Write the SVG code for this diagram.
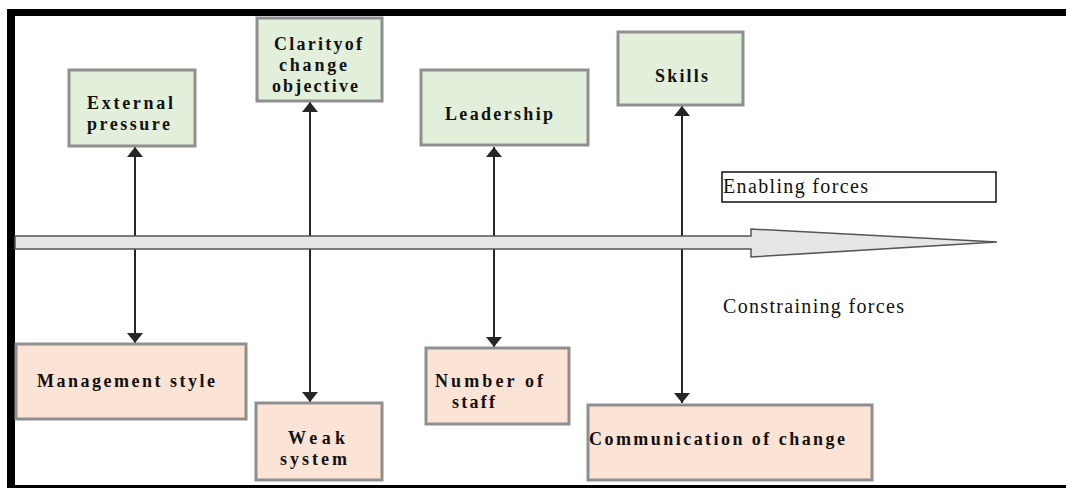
<svg xmlns="http://www.w3.org/2000/svg" width="1066" height="488" viewBox="0 0 1066 488">
<style>
.en{fill:#e2efda;stroke:#8f8f8f;stroke-width:3}
.co{fill:#fbe4d6;stroke:#8f8f8f;stroke-width:3}
.lb{font-family:"Liberation Serif","Times New Roman",serif;font-weight:bold;font-size:18px;fill:#111}
.pl{font-family:"Liberation Serif","Times New Roman",serif;font-size:20px;fill:#111}
.cn{stroke:#262626;stroke-width:2;fill:none;marker-start:url(#ah);marker-end:url(#ah)}
</style>
<defs>
<marker id="ah" viewBox="0 0 10 16" refX="10" refY="8" markerWidth="10" markerHeight="16" markerUnits="userSpaceOnUse" orient="auto-start-reverse">
<path d="M0,0 L10,8 L0,16 Z" fill="#262626"/>
</marker>
</defs>
<rect width="1066" height="488" fill="#ffffff"/>
<g id="frame" fill="#000000">
<rect x="7" y="9" width="1059" height="7"/>
<rect x="7" y="9" width="8" height="479"/>
<rect x="7" y="485" width="1059" height="3"/>
</g>
<g id="connectors">
<line class="cn" x1="135" y1="147" x2="135" y2="343"/>
<line class="cn" x1="310" y1="102" x2="310" y2="402"/>
<line class="cn" x1="494" y1="147" x2="494" y2="347"/>
<line class="cn" x1="682" y1="106" x2="682" y2="403"/>
</g>
<g id="main-arrow">
<polygon points="15,236 751,236 751,229 997,242 751,257 751,249 15,249" fill="#e6e6e6" stroke="#555555" stroke-width="1.5" stroke-linejoin="miter"/>
</g>
<g id="external-pressure">
<rect class="en" x="69" y="70" width="126" height="76"/>
<text class="lb" x="87" y="109" textLength="86" lengthAdjust="spacing">External</text>
<text class="lb" x="87" y="130" textLength="83" lengthAdjust="spacing">pressure</text>
</g>
<g id="clarity">
<rect class="en" x="257" y="18" width="125" height="83"/>
<text class="lb" x="274" y="50" textLength="88" lengthAdjust="spacing">Clarityof</text>
<text class="lb" x="279" y="71" textLength="68" lengthAdjust="spacing">change</text>
<text class="lb" x="272" y="92" textLength="86" lengthAdjust="spacing">objective</text>
</g>
<g id="leadership">
<rect class="en" x="421" y="70" width="167" height="75"/>
<text class="lb" x="445" y="120" textLength="108" lengthAdjust="spacing">Leadership</text>
</g>
<g id="skills">
<rect class="en" x="618" y="32" width="125" height="73"/>
<text class="lb" x="655" y="82" textLength="53" lengthAdjust="spacing">Skills</text>
</g>
<g id="enabling-label">
<rect x="722" y="172" width="274" height="30" fill="#ffffff" stroke="#111111" stroke-width="1.5"/>
<text class="pl" x="723" y="193" textLength="145" lengthAdjust="spacing">Enabling forces</text>
</g>
<g id="constraining-label">
<text class="pl" x="723" y="313" textLength="181" lengthAdjust="spacing">Constraining forces</text>
</g>
<g id="management-style">
<rect class="co" x="16" y="344" width="230" height="75"/>
<text class="lb" x="37" y="387" textLength="178" lengthAdjust="spacing">Management style</text>
</g>
<g id="weak-system">
<rect class="co" x="256" y="403" width="126" height="77"/>
<text class="lb" x="288" y="444" textLength="57" lengthAdjust="spacing">Weak</text>
<text class="lb" x="280" y="465" textLength="67" lengthAdjust="spacing">system</text>
</g>
<g id="number-of-staff">
<rect class="co" x="426" y="348" width="143" height="76"/>
<text class="lb" x="435" y="387" textLength="108" lengthAdjust="spacing">Number of</text>
<text class="lb" x="452" y="408" textLength="43" lengthAdjust="spacing">staff</text>
</g>
<g id="communication">
<rect class="co" x="588" y="405" width="284" height="75"/>
<text class="lb" x="589" y="445" textLength="256" lengthAdjust="spacing">Communication of change</text>
</g>
</svg>
